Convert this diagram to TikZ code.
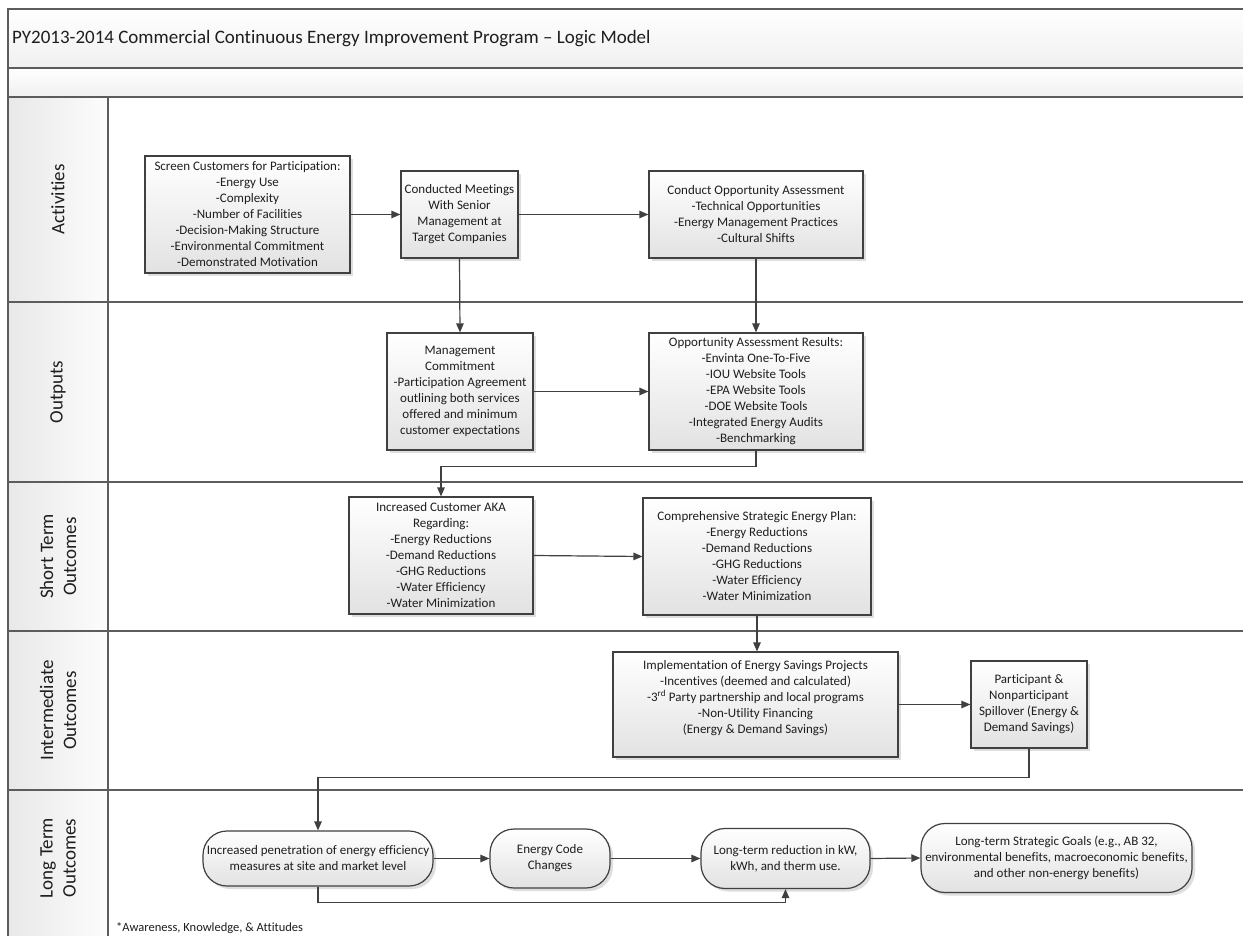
\documentclass[tikz,border=0pt]{standalone}
\usepackage{fontspec}
\setmainfont{Carlito}[Ligatures={NoCommon}]
\usetikzlibrary{arrows.meta,shadows,calc}
\definecolor{linec}{HTML}{404040}
\definecolor{lanec}{HTML}{5C5C5C}
\definecolor{boxbot}{HTML}{E2E2E2}
\definecolor{txt}{HTML}{1E1E1E}
\tikzset{
  box/.style={draw=linec, line width=1.2pt, top color=white, bottom color=boxbot,
    drop shadow={shadow xshift=3pt, shadow yshift=-3pt, fill=black!13, opacity=1},
    align=center, inner sep=0pt, text=txt, font=\fontsize{13}{16}\selectfont},
  rbox/.style={box, rounded corners=24pt},
  conn/.style={draw=linec, line width=1.2pt, -{Triangle[length=9pt,width=7.5pt]}},
  lanel/.style={draw=lanec, line width=2pt},
  lanelab/.style={rotate=90, align=center, text=txt, font=\fontsize{19}{23}\selectfont},
  cell/.style={left color=black!9, right color=black!1}
}
\begin{document}
\begin{tikzpicture}[x=1pt,y=-1pt]
\useasboundingbox (0,0) rectangle (1243,936);
\clip (0,0) rectangle (1243,936);
\fill[white] (0,0) rectangle (1243,936);
% title and second bar
\path[top color=white, bottom color=black!6] (8,9) rectangle (1250,68);
\path[top color=white, bottom color=black!6] (8,68) rectangle (1250,97);
% lane label cells
\path[cell] (8,97) rectangle (108,302);
\path[cell] (8,302) rectangle (108,482);
\path[cell] (8,482) rectangle (108,631);
\path[cell] (8,631) rectangle (108,790);
\path[cell] (8,790) rectangle (108,940);
% frame and lane lines
\draw[lanel] (1250,9) -- (8,9) -- (8,940);
\draw[lanel] (8,68) -- (1250,68);
\draw[lanel] (8,97) -- (1250,97);
\draw[lanel] (8,302) -- (1250,302);
\draw[lanel] (8,482) -- (1250,482);
\draw[lanel] (8,631) -- (1250,631);
\draw[lanel] (8,790) -- (1250,790);
\draw[draw=lanec, line width=1.5pt] (108,97) -- (108,940);
% title
\node[anchor=west, text=txt, font=\fontsize{19}{23}\selectfont, inner sep=0pt] (title) at (12,38.5)
  {PY2013-2014 Commercial Continuous Energy Improvement Program – Logic Model};
% lane labels
\node[lanelab] (lact) at (58,199.5) {Activities};
\node[lanelab] (lout) at (58,392) {Outputs};
\node[lanelab] (lshort) at (58,556.5) {Short Term\\Outcomes};
\node[lanelab] (linter) at (58,710.5) {Intermediate\\Outcomes};
\node[lanelab] (llong) at (58,858) {Long Term\\Outcomes};
% boxes
\node[box, minimum width=205pt, minimum height=117pt] (B1) at (247.5,214.5)
  {Screen Customers for Participation:\\-Energy Use\\-Complexity\\-Number of Facilities\\-Decision-Making Structure\\-Environmental Commitment\\-Demonstrated Motivation};
\node[box, minimum width=117pt, minimum height=87pt] (B2) at (459.5,214.5)
  {Conducted Meetings\\With Senior\\Management at\\Target Companies};
\node[box, minimum width=214pt, minimum height=87pt] (B3) at (756,214.5)
  {Conduct Opportunity Assessment\\-Technical Opportunities\\-Energy Management Practices\\-Cultural Shifts};
\node[box, minimum width=146pt, minimum height=117pt] (B4) at (460,391.5)
  {Management\\Commitment\\-Participation Agreement\\outlining both services\\offered and minimum\\customer expectations};
\node[box, minimum width=214pt, minimum height=117pt] (B5) at (756,391.5)
  {Opportunity Assessment Results:\\-Envinta One-To-Five\\-IOU Website Tools\\-EPA Website Tools\\-DOE Website Tools\\-Integrated Energy Audits\\-Benchmarking};
\node[box, minimum width=184pt, minimum height=117pt] (B6) at (441,555.5)
  {Increased Customer AKA\\Regarding:\\-Energy Reductions\\-Demand Reductions\\-GHG Reductions\\-Water Efficiency\\-Water Minimization};
\node[box, minimum width=228pt, minimum height=117pt] (B7) at (757,556.5)
  {Comprehensive Strategic Energy Plan:\\-Energy Reductions\\-Demand Reductions\\-GHG Reductions\\-Water Efficiency\\-Water Minimization};
\node[box, minimum width=285pt, minimum height=105pt] (B8) at (755.5,704.5)
  {Implementation of Energy Savings Projects\\-Incentives (deemed and calculated)\\-3\textsuperscript{rd} Party partnership and local programs\\-Non-Utility Financing\\(Energy \& Demand Savings)\\\mbox{}};
\node[box, minimum width=116pt, minimum height=87pt] (B9) at (1029,704.5)
  {Participant \&\\Nonparticipant\\Spillover (Energy \&\\Demand Savings)};
\node[rbox, minimum width=230pt, minimum height=55pt] (B10) at (318,858.5)
  {Increased penetration of energy efficiency\\measures at site and market level};
\node[rbox, minimum width=120pt, minimum height=59pt] (B11) at (550,858.5)
  {Energy Code\\Changes};
\node[rbox, minimum width=169pt, minimum height=60pt] (B12) at (785.5,858.5)
  {Long-term reduction in kW,\\kWh, and therm use.};
\node[rbox, minimum width=271pt, minimum height=69pt] (B13) at (1056.5,858)
  {Long-term Strategic Goals (e.g., AB 32,\\environmental benefits, macroeconomic benefits,\\and other non-energy benefits)};
% footnote
\node[anchor=west, inner sep=0pt, text=txt, font=\fontsize{12.5}{15}\selectfont] (note) at (116,928)
  {*Awareness, Knowledge, \& Attitudes};
% connectors
\draw[conn] (B1.east) -- (B2.west);
\draw[conn] (B2.east) -- (B3.west);
\draw[conn] (B2.south) -- (B4.north);
\draw[conn] (B3.south) -- (B5.north);
\draw[conn] (B4.east) -- (B5.west);
\draw[conn] (B5.south) -- ++(0,16) -| (B6.north);
\draw[conn] (B6.east) -- (B7.west);
\draw[conn] (B7.south) -- (B7.south |- B8.north);
\draw[conn] (B8.east) -- (B9.west);
\draw[conn] (B9.south) -- ++(0,29) -| (B10.north);
\draw[conn] (B10.east) -- (B11.west);
\draw[conn] (B11.east) -- (B12.west);
\draw[conn] (B12.east) -- (B13.west);
\draw[conn] (B10.south) -- ++(0,16) -| (B12.south);
\end{tikzpicture}
\end{document}
